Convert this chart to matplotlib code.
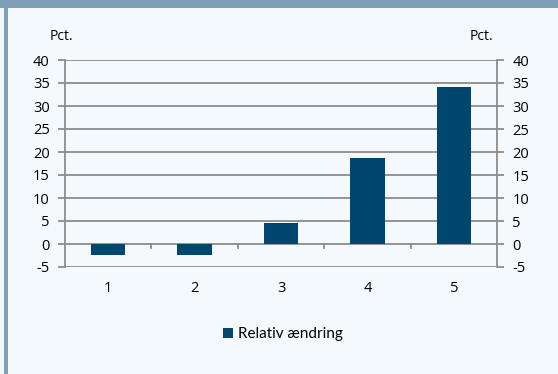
import matplotlib
matplotlib.use("Agg")
import matplotlib.pyplot as plt
from matplotlib.patches import Rectangle

categories = ["1", "2", "3", "4", "5"]
values = [-2.4, -2.4, 4.6, 18.8, 34.2]
yticks = [-5, 0, 5, 10, 15, 20, 25, 30, 35, 40]

BG = "#f4f9fd"
FRAME = "#7fa0b6"
BAR = "#00466e"
GRID = "#8c8c8c"

plt.rcParams["font.family"] = ["Open Sans", "DejaVu Sans"]

fig = plt.figure(figsize=(5.58, 3.74), dpi=100)
fig.patch.set_facecolor(BG)

# frame: top band + left strip
fig.add_artist(Rectangle((0, 1 - 8/374), 1, 8/374, transform=fig.transFigure,
                         facecolor=FRAME, edgecolor="none"))
fig.add_artist(Rectangle((4/558, 0), 4/558, 1, transform=fig.transFigure,
                         facecolor=FRAME, edgecolor="none"))

ax = fig.add_axes([65/558, 107/374, 432/558, 207/374])
ax.set_facecolor(BG)

x = list(range(len(categories)))
ax.bar(x, values, width=0.4, color=BAR, zorder=3, label="Relativ ændring")

ax.set_ylim(-5, 40)
ax.set_xlim(-0.5, len(categories) - 0.5)
ax.set_yticks(yticks)
ax.set_yticklabels([str(v) for v in yticks], fontsize=10.5)
for v in yticks:
    ax.axhline(v, color=GRID, lw=1.3, zorder=1)

ax.set_xticks(x)
ax.set_xticklabels(categories, fontsize=10.5)
ax.tick_params(axis="x", length=0, pad=10)
ax.tick_params(axis="y", length=5, width=1.3, color=GRID, pad=6)

# boundary ticks hanging down from the zero line
for b in [0.5, 1.5, 2.5, 3.5]:
    ax.plot([b, b], [0, -0.9], color=GRID, lw=1.3, zorder=2)

for s in ["top", "bottom"]:
    ax.spines[s].set_visible(False)
for s in ["left", "right"]:
    ax.spines[s].set_color(GRID)
    ax.spines[s].set_linewidth(1.3)

ax2 = ax.twinx()
ax2.set_ylim(-5, 40)
ax2.set_yticks(yticks)
ax2.set_yticklabels([str(v) for v in yticks], fontsize=10.5)
ax2.tick_params(axis="y", length=5, width=1.3, color=GRID, pad=6)
for s in ax2.spines.values():
    s.set_visible(False)

fig.text(50/558, 1 - 37/374, "Pct.", fontsize=10, va="center", ha="left")
fig.text(470/558, 1 - 37/374, "Pct.", fontsize=10, va="center", ha="left")

leg = fig.legend(loc="center", bbox_to_anchor=(283/558, 1 - 334/374), frameon=False,
                 fontsize=10.5, handlelength=0.7, handleheight=0.7, handletextpad=0.3)
for t in leg.get_texts():
    t.set_family(["Lato", "DejaVu Sans"])
    t.set_fontsize(11)

fig.savefig("out.png", dpi=100, facecolor=BG)
